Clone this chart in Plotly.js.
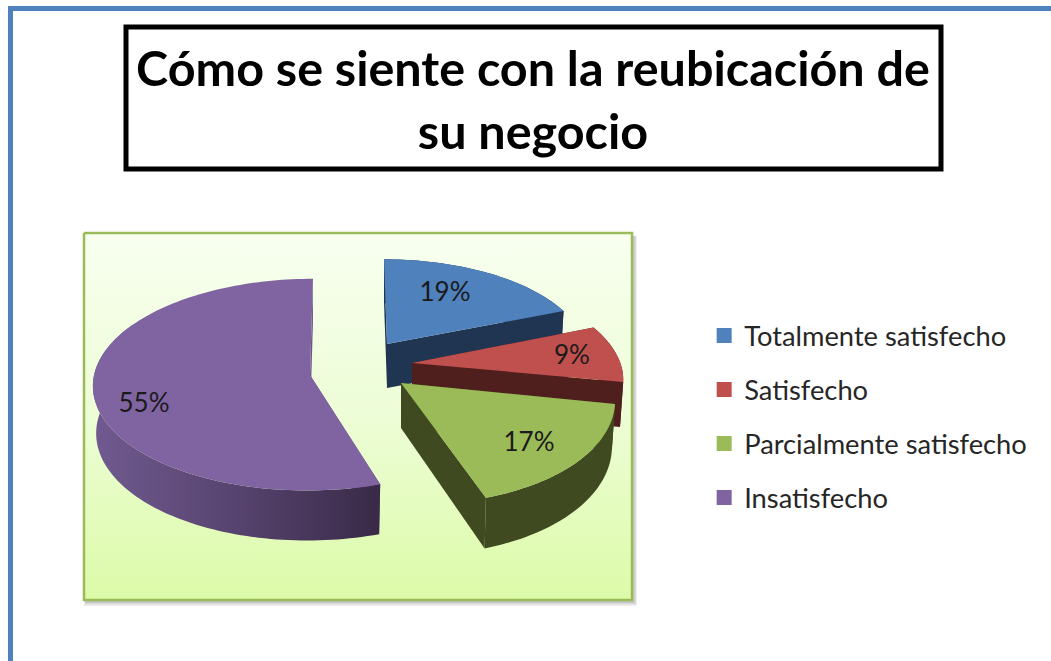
<!DOCTYPE html>
<html>
<head>
<meta charset="utf-8">
<script src="https://cdn.plot.ly/plotly-3.0.1.min.js"></script>
<style>html,body{margin:0;padding:0;background:#fff}#chart{width:1051px;height:661px}</style>
</head>
<body>
<div id="chart"></div>
<script>
var categories = ['Totalmente satisfecho', 'Satisfecho', 'Parcialmente satisfecho', 'Insatisfecho'];
var values = [19, 9, 17, 55];
var topColors = ['#4F81BD', '#C0504D', '#9BBB59', '#8064A2'];
var sideColors = ['#1F3552', '#4E1F1D', '#3F4A20', '#6C5588'];
var titleText = 'Cómo se siente con la reubicación de<br>su negocio';

// Projection of each exploded slice (pixel-scaled axes)
var apexX = [387, 412, 401, 310];
var apexY = [344, 363, 383, 375];
var scaleX = [0.91, 0.96, 0.975, 0.995];
var scaleY = [0.88, 0.95, 1.05, 1.0];
var shear = [3, 16, 14, -3];
var depth = [44, 45, 45, 47];
var frontExtra = [0, 0, 6, 3];
var labelX = [445, 572, 529, 144];
var labelY = [294, 357, 444, 405];
var R = 217, Ry = 105, K = 0.091, SHRINK = 0.985;

function project(i, deg, down) {
  var t = deg * Math.PI / 180;
  var d = -Math.cos(t);
  var w = 1 / (1 - K * d);
  var f = down ? SHRINK : 1;
  return [
    apexX[i] + f * (R * scaleX[i] * Math.sin(t) * w + shear[i] * d),
    apexY[i] + Ry * scaleY[i] * d * w + (down ? depth[i] + frontExtra[i] * d : 0)
  ];
}
function apex(i, down) {
  return [apexX[i], apexY[i] + (down ? depth[i] : 0)];
}
function poly(pts, color, extra) {
  var tr = {
    type: 'scatter', mode: 'none', fill: 'toself', fillcolor: color,
    x: pts.map(function (p) { return p[0]; }),
    y: pts.map(function (p) { return p[1]; }),
    showlegend: false, hoverinfo: 'skip'
  };
  if (extra) for (var k in extra) tr[k] = extra[k];
  return tr;
}

var traces = [];

// Panel behind the pie
traces.push({
  type: 'scatter', mode: 'lines', fill: 'toself',
  x: [84, 632, 632, 84, 84], y: [233, 233, 600, 600, 233],
  line: { color: '#9BBB59', width: 2.5 },
  fillgradient: { type: 'vertical', colorscale: [[0, '#DCFBA8'], [0.5, '#EDFDD6'], [1, '#F8FFF0']] },
  showlegend: false, hoverinfo: 'skip'
});

// Slices
var total = values.reduce(function (a, b) { return a + b; }, 0);
var cum = 0;
values.forEach(function (v, i) {
  var a0 = cum / total * 360, a1 = (cum + v) / total * 360;
  cum += v;
  var steps = Math.max(6, Math.round((a1 - a0) / 1.5));
  var stripSteps = (i === 3) ? Math.round(steps * 0.7) : steps;
  var topArc = [], lowArc = [];
  for (var s = 0; s <= steps; s++) {
    var a = a0 + (a1 - a0) * s / steps;
    topArc.push(project(i, a, false));
    lowArc.push(project(i, a, true));
  }
  var last = steps;
  traces.push(poly([apex(i, false), topArc[0], lowArc[0], apex(i, true), apex(i, false)], sideColors[i]));
  traces.push(poly([apex(i, false), topArc[last], lowArc[last], apex(i, true), apex(i, false)], sideColors[i]));
  var stripTop = topArc.slice(0, stripSteps + 1);
  var stripLow = lowArc.slice(0, stripSteps + 1);
  var strip = stripTop.concat(stripLow.reverse());
  strip.push(topArc[0]);
  var extra = (i === 3) ? {
    fillgradient: { type: 'horizontal', colorscale: [[0, '#705A90'], [0.5, '#57436F'], [1, '#392A47']] }
  } : null;
  traces.push(poly(strip, sideColors[i], extra));
  var top = [apex(i, false)].concat(topArc);
  top.push(apex(i, false));
  traces.push(poly(top, topColors[i]));
});

// Percentage labels
traces.push({
  type: 'scatter', mode: 'text', x: labelX, y: labelY,
  text: values.map(function (v) { return v + '%'; }),
  textposition: 'middle center',
  textfont: { family: 'Lato, sans-serif', size: 26, color: '#1A1A1A' },
  showlegend: false, hoverinfo: 'skip'
});

// Legend entries
categories.forEach(function (c, i) {
  traces.push({
    type: 'scatter', mode: 'markers', name: c, legendgroup: 'g' + i,
    x: [-100], y: [-100],
    marker: { symbol: 'square', size: 15, color: topColors[i] },
    hoverinfo: 'skip'
  });
});

var layout = {
  width: 1051, height: 661, autosize: false,
  margin: { l: 0, r: 0, t: 0, b: 0, pad: 0 },
  paper_bgcolor: '#FFFFFF', plot_bgcolor: 'rgba(0,0,0,0)',
  title: {
    text: titleText, x: 533 / 1051, xref: 'paper', xanchor: 'center',
    y: 0.87, yref: 'paper', yanchor: 'middle',
    font: { family: 'Lato, sans-serif', size: 48.5, color: '#000000', weight: 700 }
  },
  xaxis: { range: [0, 1051], visible: false, fixedrange: true },
  yaxis: { range: [661, 0], visible: false, fixedrange: true },
  shapes: [
    { type: 'rect', xref: 'x', yref: 'y', x0: 10.5, y0: 8.5, x1: 1090, y1: 700, line: { color: '#4F81BD', width: 5 }, layer: 'below' },
    { type: 'rect', xref: 'x', yref: 'y', x0: 126, y0: 27, x1: 941, y1: 169, line: { color: '#000000', width: 5 }, fillcolor: '#FFFFFF', layer: 'below' },
    { type: 'rect', xref: 'x', yref: 'y', x0: 84, y0: 236, x1: 637, y1: 606, line: { width: 0 }, fillcolor: 'rgba(90,90,90,0.10)', layer: 'below' },
    { type: 'rect', xref: 'x', yref: 'y', x0: 85, y0: 236, x1: 636, y1: 604.5, line: { width: 0 }, fillcolor: 'rgba(90,90,90,0.14)', layer: 'below' },
    { type: 'rect', xref: 'x', yref: 'y', x0: 85, y0: 236, x1: 634.5, y1: 603, line: { width: 0 }, fillcolor: 'rgba(90,90,90,0.16)', layer: 'below' }
  ],
  showlegend: true,
  legend: {
    x: 0.670, xanchor: 'left', y: 0.3695, yanchor: 'middle',
    bgcolor: 'rgba(0,0,0,0)', borderwidth: 0,
    tracegroupgap: 15.5, itemsizing: 'trace',
    font: { family: 'Lato, sans-serif', size: 27.3, color: '#262626' }
  }
};

Plotly.newPlot('chart', traces, layout, { displayModeBar: false, staticPlot: true });
</script>
</body>
</html>
